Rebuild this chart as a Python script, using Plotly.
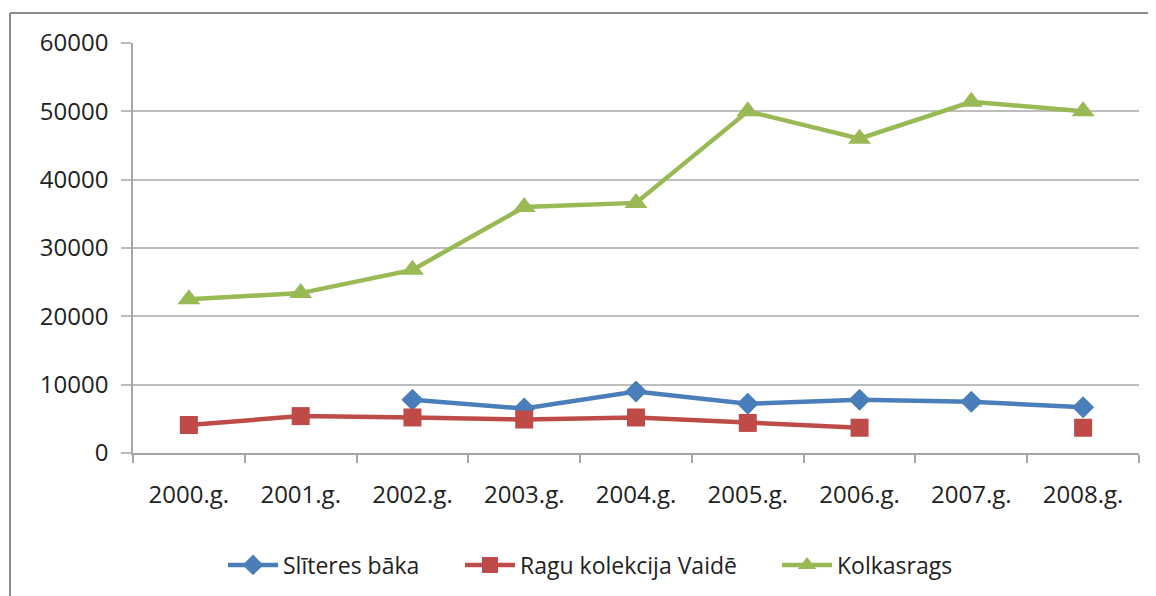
import plotly.graph_objects as go

years = ["2000.g.", "2001.g.", "2002.g.", "2003.g.", "2004.g.", "2005.g.", "2006.g.", "2007.g.", "2008.g."]
sliteres = [None, None, 7800, 6500, 9000, 7200, 7800, 7500, 6700]
ragu = [4100, 5400, 5200, 4900, 5200, 4400, 3700, None, 3700]
kolka = [22500, 23400, 26800, 36000, 36600, 50000, 46000, 51400, 50000]
y_ticks = [0, 10000, 20000, 30000, 40000, 50000, 60000]
y_labels = [str(v) for v in y_ticks]

FONT = "Open Sans"
fig = go.Figure()
fig.add_trace(go.Scatter(x=years, y=sliteres, name="Slīteres bāka", mode="lines+markers",
                         line=dict(color="#4A7EBB", width=4.5),
                         marker=dict(symbol="diamond", size=17, color="#4A7EBB"),
                         connectgaps=False, legend="legend"))
fig.add_trace(go.Scatter(x=years, y=ragu, name="Ragu kolekcija Vaidē", mode="lines+markers",
                         line=dict(color="#BE4B48", width=4.5),
                         marker=dict(symbol="square", size=18, color="#BE4B48"),
                         connectgaps=False, legend="legend2"))
fig.add_trace(go.Scatter(x=years, y=kolka, name="Kolkasrags", mode="lines+markers",
                         line=dict(color="#98B954", width=4.5),
                         marker=dict(symbol="triangle-up", size=20, color="#98B954"),
                         connectgaps=False, legend="legend3"))

# the page body has an 8px default margin, so lay out in shifted coordinates
OFF = 8
W, H = 1156 - OFF, 596 - OFF
L, R, T, B = 133 - OFF, 17, 43 - OFF, 143
pw, ph = W - L - R, H - T - B

def px(x):
    return (x - OFF - L) / pw

def py(y):
    return (H - B - (y - OFF)) / ph

frame = dict(color="#8C8C8C", width=2)
fig.add_shape(type="line", xref="paper", yref="paper", x0=px(10), x1=px(1160), y0=py(13), y1=py(13), line=frame)
fig.add_shape(type="line", xref="paper", yref="paper", x0=px(10), x1=px(10), y0=py(13), y1=py(600), line=frame)

def leg(x):
    return dict(orientation="h", x=px(x), xanchor="left", y=py(565), yanchor="middle",
                font=dict(family=FONT, size=23, color="#222222"), itemwidth=50,
                bgcolor="rgba(0,0,0,0)")

fig.update_layout(
    width=W, height=H,
    margin=dict(l=L, r=R, t=T, b=B, autoexpand=False),
    paper_bgcolor="white", plot_bgcolor="white",
    font=dict(family=FONT, size=24, color="#222222"),
    showlegend=True,
    legend=leg(223), legend2=leg(460), legend3=leg(777),
    xaxis=dict(type="category", range=[-0.5, len(years) - 0.5], showgrid=False, showline=True,
               linecolor="#A6A6A6", linewidth=1.5,
               ticks="outside", ticklen=8, tickcolor="#A6A6A6", tickwidth=1.5, tickson="boundaries",
               ticklabelstandoff=19, fixedrange=True, automargin=False),
    yaxis=dict(range=[0, 60000], tickvals=y_ticks, ticktext=y_labels, showgrid=True,
               gridcolor="#BDBDBD", gridwidth=1.5,
               showline=True, linecolor="#A6A6A6", linewidth=1.5, ticks="outside", ticklen=10,
               tickcolor="#BDBDBD", tickwidth=1.5, zeroline=False, ticklabelstandoff=8,
               fixedrange=True, automargin=False),
)

fig.write_html("out.html")
